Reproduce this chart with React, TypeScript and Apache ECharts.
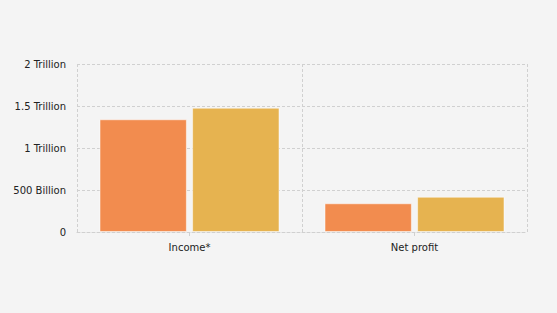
import React, { useEffect, useRef } from "react";
import * as echarts from "echarts";

const categories = ["Income*", "Net profit"];
const seriesA = [1.342e12, 0.342e12];
const seriesB = [1.48e12, 0.42e12];
const yTickLabels: Record<string, string> = {
  "0": "0",
  "500000000000": "500 Billion",
  "1000000000000": "1 Trillion",
  "1500000000000": "1.5 Trillion",
  "2000000000000": "2 Trillion",
};

export default function App() {
  const ref = useRef<HTMLDivElement>(null);
  useEffect(() => {
    if (!ref.current) return;
    const chart = echarts.init(ref.current, undefined, { renderer: "svg" });
    const font = "Verdana, 'DejaVu Sans', sans-serif";
    const dash = { color: "#d0d0d0", type: [3, 2] as number[], width: 1 };
    chart.setOption({
      animation: false,
      backgroundColor: "#f4f4f4",
      grid: { left: 77, right: 30, top: 64, bottom: 81 },
      xAxis: {
        type: "category",
        data: categories,
        axisLine: { show: true, lineStyle: dash },
        axisTick: { show: true, alignWithLabel: true, length: 4, lineStyle: { color: "#d0d0d0" } },
        axisLabel: { color: "#222", fontSize: 10, fontFamily: font, margin: 10 },
        splitLine: { show: true, lineStyle: dash },
      },
      yAxis: {
        type: "value",
        min: 0,
        max: 2e12,
        interval: 5e11,
        axisLine: { show: false },
        axisTick: { show: false },
        axisLabel: {
          color: "#222",
          fontSize: 10,
          fontFamily: font,
          margin: 11,
          formatter: (v: number) => yTickLabels[String(v)] ?? String(v),
        },
        splitLine: { show: true, lineStyle: dash },
      },
      series: [
        {
          type: "bar",
          name: "A",
          data: seriesA,
          barGap: "6%",
          barCategoryGap: "20%",
          itemStyle: { color: "#f28c4f", borderColor: "rgba(255,255,255,0.5)", borderWidth: 1 },
        },
        {
          type: "bar",
          name: "B",
          data: seriesB,
          itemStyle: { color: "#e6b350", borderColor: "rgba(255,255,255,0.5)", borderWidth: 1 },
        },
      ],
    });
    return () => chart.dispose();
  }, []);
  return <div ref={ref} style={{ width: 557, height: 313, position: "absolute", left: 0, top: 0 }} />;
}
